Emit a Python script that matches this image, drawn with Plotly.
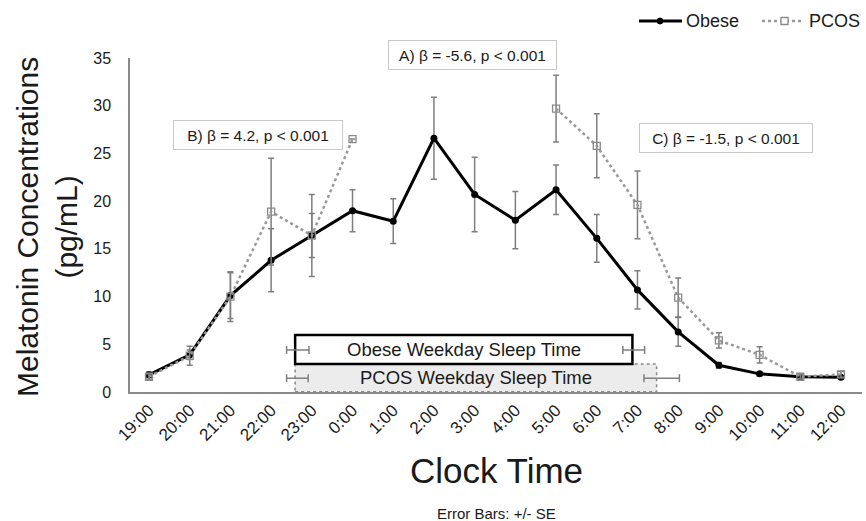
import plotly.graph_objects as go

# ---------------- data ----------------
times = ["19:00", "20:00", "21:00", "22:00", "23:00", "0:00", "1:00", "2:00", "3:00",
         "4:00", "5:00", "6:00", "7:00", "8:00", "9:00", "10:00", "11:00", "12:00"]
obese = [1.8, 3.9, 10.1, 13.8, 16.4, 19.0, 17.9, 26.6, 20.7, 18.0, 21.2, 16.1, 10.7, 6.3, 2.8, 1.9, 1.6, 1.55]
obese_se = [0.3, 0.5, 2.4, 3.3, 2.3, 2.2, 2.35, 4.3, 3.9, 3.0, 2.6, 2.5, 2.0, 1.5, 0.3, 0.2, 0.15, 0.15]
pcos = [1.6, 3.8, 10.0, 18.9, 16.4, 26.5, None, None, None, None, 29.7, 25.8, 19.6, 9.9, 5.4, 3.9, 1.6, 1.85]
pcos_se = [0.3, 1.0, 2.6, 5.6, 4.3, 0.0, None, None, None, None, 3.5, 3.35, 3.55, 2.05, 0.8, 0.85, 0.2, 0.3]

# weekday sleep (clock hours, decimal) and SE whiskers (hours)
obese_sleep = [22.59, 6.876]
obese_sleep_minus = [0.21, 0.236]
obese_sleep_plus = [0.34, 0.30]
pcos_sleep = [22.59, 7.47]
pcos_sleep_minus = [0.21, 0.31]
pcos_sleep_plus = [0.32, 0.56]

stats_text = ["A) β = -5.6, p < 0.001", "B) β = 4.2, p < 0.001", "C) β = -1.5, p < 0.001"]
series_names = ["Obese", "PCOS"]

FONT = "Arial, Liberation Sans, sans-serif"
TXT = "#1a1a1a"
x_idx = list(range(len(times)))

# layout geometry (pixels)
W, H = 866, 521
ML, MR, MT, MB = 130, 4, 58, 129
PW, PH = W - ML - MR, H - MT - MB


def px(xp):
    return (xp - ML) / PW


def py(yp):
    return (H - MB - yp) / PH


def to_idx(h):
    return (h - 19) % 24


fig = go.Figure()

fig.add_trace(go.Scatter(
    x=x_idx, y=obese, name=series_names[0], mode="lines+markers", showlegend=False,
    line=dict(color="black", width=3),
    marker=dict(symbol="circle", size=7, color="black"),
    error_y=dict(type="data", array=obese_se, color="#7f7f7f", thickness=1.5, width=3),
))
fig.add_trace(go.Scatter(
    x=x_idx, y=pcos, name=series_names[1], mode="lines+markers", connectgaps=False, showlegend=False,
    line=dict(color="#999999", width=2.5, dash="dot"),
    marker=dict(symbol="square-open", size=7, color="#8a8a8a", line=dict(width=1.3)),
    error_y=dict(type="data", array=pcos_se, color="#7f7f7f", thickness=1.5, width=3),
))

# sleep-time boxes
ob_x = [to_idx(h) for h in obese_sleep]
pc_x = [to_idx(h) for h in pcos_sleep]
shapes = []
shapes.append(dict(type="rect", xref="x", yref="y", x0=pc_x[0], x1=pc_x[1], y0=0.03, y1=2.93,
                   fillcolor="#ececec", line=dict(color="#8a8a8a", width=1.5, dash="dot"), layer="below"))
shapes.append(dict(type="rect", xref="x", yref="y", x0=ob_x[0], x1=ob_x[1], y0=2.93, y1=5.97,
                   fillcolor="white", line=dict(color="black", width=2.5), layer="below"))

# whiskers of sleep onset/offset
fig.add_trace(go.Scatter(
    x=ob_x, y=[4.4, 4.4], mode="markers", showlegend=False, hoverinfo="skip",
    marker=dict(size=1, opacity=0),
    error_x=dict(type="data", symmetric=False, array=obese_sleep_plus, arrayminus=obese_sleep_minus,
                 color="#7f7f7f", thickness=1.5, width=4),
))
fig.add_trace(go.Scatter(
    x=pc_x, y=[1.44, 1.44], mode="markers", showlegend=False, hoverinfo="skip",
    marker=dict(size=1, opacity=0),
    error_x=dict(type="data", symmetric=False, array=pcos_sleep_plus, arrayminus=pcos_sleep_minus,
                 color="#7f7f7f", thickness=1.5, width=4),
))

ann = []
ann.append(dict(x=(ob_x[0] + ob_x[1]) / 2, y=4.45, xref="x", yref="y", showarrow=False,
                text="Obese Weekday Sleep Time", font=dict(family=FONT, size=18.5, color=TXT)))
ann.append(dict(x=(pc_x[0] + pc_x[1]) / 2, y=1.47, xref="x", yref="y", showarrow=False,
                text="PCOS Weekday Sleep Time", font=dict(family=FONT, size=18.5, color=TXT)))

# statistics boxes (pixel centre, width)
stat_pos = [(472.5, 55, 167), (258, 135, 168), (726, 138, 172)]
for t, (sx, sy, w) in zip(stats_text, stat_pos):
    ann.append(dict(x=px(sx), y=py(sy), xref="paper", yref="paper", showarrow=False, text=t,
                    xanchor="center", yanchor="middle",
                    font=dict(family=FONT, size=15.5, color=TXT),
                    bordercolor="#c8c8c8", borderwidth=1, borderpad=0, bgcolor="white",
                    width=w, height=28))

ann.append(dict(x=0, y=py(227), xref="paper", yref="paper", xshift=-83, showarrow=False,
                xanchor="center", yanchor="middle",
                textangle=-90, text="Melatonin Concentrations<br>(pg/mL)",
                font=dict(family=FONT, size=30, color=TXT)))
ann.append(dict(x=0.5, y=py(470), xref="paper", yref="paper", showarrow=False,
                text="Clock Time", font=dict(family=FONT, size=35, color=TXT), yanchor="middle"))
ann.append(dict(x=0.5, y=py(513), xref="paper", yref="paper", showarrow=False,
                text="Error Bars: +/- SE", font=dict(family=FONT, size=15, color=TXT), yanchor="middle"))

# manual legend
LEG_Y = 21
LX = -8  # horizontal offset of the legend block (pixels)
shapes.append(dict(type="line", xref="paper", yref="paper", x0=px(647 + LX), x1=px(690 + LX), y0=py(LEG_Y), y1=py(LEG_Y),
                   line=dict(color="black", width=3)))
shapes.append(dict(type="circle", xref="paper", yref="paper", x0=px(665 + LX), x1=px(671 + LX),
                   y0=py(LEG_Y + 3), y1=py(LEG_Y - 3), fillcolor="black", line=dict(color="black", width=1)))
shapes.append(dict(type="line", xref="paper", yref="paper", x0=px(770 + LX), x1=px(812 + LX), y0=py(LEG_Y), y1=py(LEG_Y),
                   line=dict(color="#999999", width=2.5, dash="dot")))
shapes.append(dict(type="rect", xref="paper", yref="paper", x0=px(789 + LX), x1=px(796 + LX),
                   y0=py(LEG_Y + 3.5), y1=py(LEG_Y - 3.5), fillcolor="white", line=dict(color="#8a8a8a", width=1.3)))
ann.append(dict(x=px(692 + LX), y=py(LEG_Y), xref="paper", yref="paper", showarrow=False, xanchor="left",
                yanchor="middle", text=series_names[0], font=dict(family=FONT, size=18, color=TXT)))
ann.append(dict(x=px(815 + LX), y=py(LEG_Y), xref="paper", yref="paper", showarrow=False, xanchor="left",
                yanchor="middle", text=series_names[1], font=dict(family=FONT, size=18, color=TXT)))

fig.update_layout(
    width=W, height=H,
    margin=dict(l=ML, r=MR, t=MT, b=MB),
    paper_bgcolor="white", plot_bgcolor="white",
    font=dict(family=FONT, color=TXT),
    showlegend=False,
    annotations=ann,
    shapes=shapes,
    xaxis=dict(range=[-0.467, 17.516], tickmode="array", tickvals=x_idx, ticktext=times,
               tickangle=-45, tickfont=dict(family=FONT, size=17, color=TXT),
               showgrid=False, zeroline=False, showline=True, linecolor="#8a8a8a", linewidth=1.5,
               ticks=""),
    yaxis=dict(range=[0, 35], tickvals=[0, 5, 10, 15, 20, 25, 30, 35],
               tickfont=dict(family=FONT, size=16, color=TXT), ticklabelstandoff=14,
               showgrid=False, zeroline=False, showline=True, linecolor="#8a8a8a", linewidth=1.5,
               ticks=""),
)

fig.write_html("out.html")
